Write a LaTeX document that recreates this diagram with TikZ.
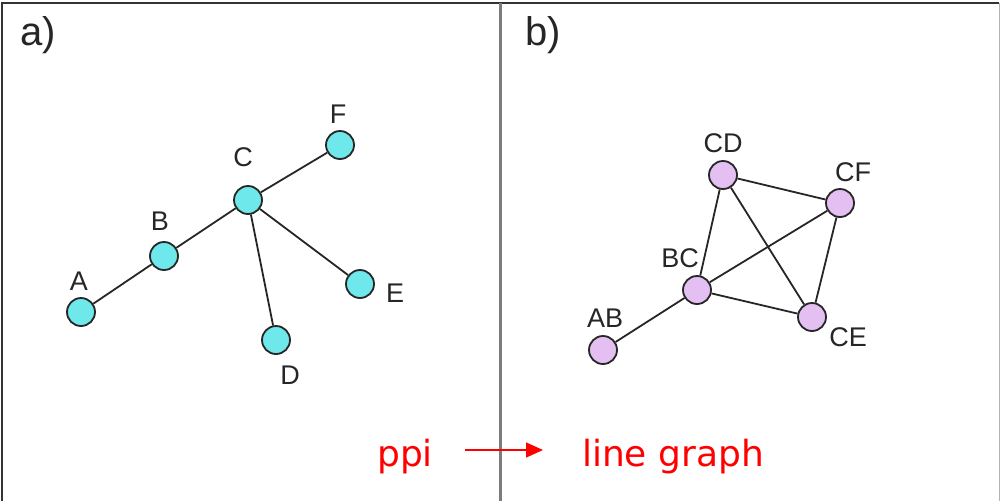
\documentclass[tikz,border=0pt]{standalone}
\usepackage{fontspec}
\setmainfont{Liberation Sans}
\newfontfamily\redfont{DejaVu Sans}
\usetikzlibrary{arrows.meta}
\definecolor{cyanfill}{RGB}{110,232,234}
\definecolor{lilac}{RGB}{228,192,242}
\definecolor{divgray}{RGB}{125,125,125}
\begin{document}
\begin{tikzpicture}[x=1pt,y=-1pt,
  cnode/.style={circle,draw=black!85,line width=1.8pt,fill=cyanfill,minimum size=28pt,inner sep=0pt},
  pnode/.style={circle,draw=black!85,line width=1.8pt,fill=lilac,minimum size=28pt,inner sep=0pt},
  lbl/.style={font=\fontsize{27}{27}\selectfont,text=black!85,inner sep=0pt},
  panel/.style={font=\fontsize{40}{40}\selectfont,text=black!85,inner sep=0pt},
  edge/.style={line width=1.8pt,draw=black!85},
  redtxt/.style={font=\redfont\fontsize{36}{36}\selectfont,text=red,inner sep=0pt}]
\useasboundingbox (0,0) rectangle (1000,501);
\fill[white] (0,0) rectangle (1000,501);
% frame
\draw[line width=2pt,black!80] (2,501) -- (2,3) -- (999,3);
\draw[line width=1pt,black!30] (999,3) -- (999,501);
\draw[line width=3pt,divgray] (500,3) -- (500,501);
% panel labels
\node[panel] (pa) at (38,35) {a)};
\node[panel] (pb) at (543,35) {b)};
% left graph
\node[cnode] (A) at (81,312) {};
\node[cnode] (B) at (164,256) {};
\node[cnode] (C) at (248,200) {};
\node[cnode] (F) at (340,145) {};
\node[cnode] (E) at (360,284) {};
\node[cnode] (D) at (276,340) {};
\draw[edge] (A) -- (B);
\draw[edge] (B) -- (C);
\draw[edge] (C) -- (F);
\draw[edge] (C) -- (E);
\draw[edge] (C) -- (D);
\node[lbl] (lA) at (79,281) {A};
\node[lbl] (lB) at (160,221) {B};
\node[lbl] (lC) at (243,157) {C};
\node[lbl] (lF) at (338,114) {F};
\node[lbl] (lE) at (395,293) {E};
\node[lbl] (lD) at (290,375) {D};
% right graph
\node[pnode] (CD) at (723,175) {};
\node[pnode] (CF) at (840,203) {};
\node[pnode] (BC) at (697,290) {};
\node[pnode] (CE) at (812,317) {};
\node[pnode] (AB) at (603,350) {};
\draw[edge] (AB) -- (BC);
\draw[edge] (BC) -- (CD);
\draw[edge] (BC) -- (CF);
\draw[edge] (BC) -- (CE);
\draw[edge] (CD) -- (CF);
\draw[edge] (CD) -- (CE);
\draw[edge] (CF) -- (CE);
\node[lbl] (lCD) at (723,143) {CD};
\node[lbl] (lCF) at (853,172) {CF};
\node[lbl] (lBC) at (680,258) {BC};
\node[lbl] (lCE) at (848,337) {CE};
\node[lbl] (lAB) at (605,318) {AB};
% red caption
\node[redtxt,anchor=base] (ppi) at (405,466) {ppi};
\node[redtxt,anchor=base] (lg) at (673,466) {line graph};
\coordinate (arS) at (465,450);
\coordinate (arE) at (543,450);
\draw[red,line width=1.3pt,-{Triangle[length=17pt,width=15pt]}] (arS) -- (arE);
\end{tikzpicture}
\end{document}
